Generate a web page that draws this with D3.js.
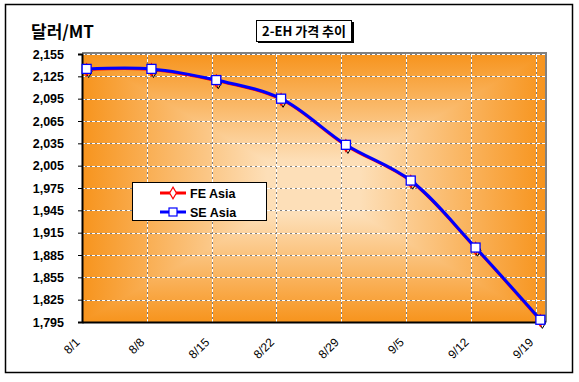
<!DOCTYPE html>
<html>
<head>
<meta charset="utf-8">
<script src="https://cdn.jsdelivr.net/npm/d3@7/dist/d3.min.js"></script>
<style>
  html, body { margin: 0; padding: 0; background: #fff; }
  svg { display: block; }
  text { font-family: "Liberation Sans", Arial, sans-serif; }
</style>
</head>
<body>
<svg id="chart" width="579" height="382"></svg>
<script>
// ---- data ----
const categories = ["8/1", "8/8", "8/15", "8/22", "8/29", "9/5", "9/12", "9/19"];
const feAsia = [2134, 2134, 2119, 2094, 2032, 1984, 1894, 1797];
const seAsia = [2135, 2135, 2120, 2095, 2033, 1985, 1895, 1798];
const yTickValues = [1795, 1825, 1855, 1885, 1915, 1945, 1975, 2005, 2035, 2065, 2095, 2125, 2155];
const seriesNames = ["FE Asia", "SE Asia"];
const chartTitle = "2-EH 가격 추이";
const yUnit = "달러/MT";

// ---- layout ----
const svg = d3.select("#chart");
const plot = { left: 82, right: 545, top: 54, bottom: 322 };
const orange = "#F7941D", light = "#FDDFB8";

// day-based scale: each category is a week apart, points at the middle of the day
const x = d3.scaleLinear().domain([0, 50]).range([plot.left, plot.right]);
const dayOf = i => i * 7 + 0.5;
const y = d3.scaleLinear().domain([1795, 2155]).range([plot.bottom, plot.top]);

// outer border
svg.append("rect").attr("x", 5.5).attr("y", 4.5).attr("width", 567).attr("height", 368)
  .attr("fill", "#fff").attr("stroke", "#000").attr("stroke-width", 1.5);

// gradients
const defs = svg.append("defs");
function mkGrad(id, horiz) {
  const g = defs.append("linearGradient").attr("id", id)
    .attr("x1", 0).attr("y1", 0).attr("x2", horiz ? 1 : 0).attr("y2", horiz ? 0 : 1);
  g.append("stop").attr("offset", "0%").attr("stop-color", orange);
  g.append("stop").attr("offset", "40%").attr("stop-color", light);
  g.append("stop").attr("offset", "60%").attr("stop-color", light);
  g.append("stop").attr("offset", "100%").attr("stop-color", orange);
}
mkGrad("gh", true);
mkGrad("gv", false);

const pw = plot.right - plot.left, ph = plot.bottom - plot.top;
// plot shadow border (gray top/right)
svg.append("rect").attr("x", plot.left).attr("y", plot.top - 2).attr("width", pw + 2).attr("height", ph + 2)
  .attr("fill", "#808080");
const bg = svg.append("g").style("isolation", "isolate");
bg.append("rect").attr("x", plot.left).attr("y", plot.top).attr("width", pw).attr("height", ph)
  .attr("fill", "url(#gh)");
bg.append("rect").attr("x", plot.left).attr("y", plot.top).attr("width", pw).attr("height", ph)
  .attr("fill", "url(#gv)").style("mix-blend-mode", "darken");

// gridlines
const grid = svg.append("g");
yTickValues.slice(1).forEach(v => {
  const yy = Math.round(y(v)) + 0.5;
  grid.append("line").attr("x1", plot.left).attr("x2", plot.right).attr("y1", yy).attr("y2", yy)
    .attr("stroke", "#808080").attr("stroke-width", 1);
  grid.append("line").attr("x1", plot.left).attr("x2", plot.right).attr("y1", yy).attr("y2", yy)
    .attr("stroke", "#fff").attr("stroke-width", 1).attr("stroke-dasharray", "3,2");
});
categories.forEach((c, i) => {
  if (i === 0) return;
  const xx = Math.round(x(i * 7)) + 0.5;
  grid.append("line").attr("x1", xx).attr("x2", xx).attr("y1", plot.top).attr("y2", plot.bottom)
    .attr("stroke", "#808080").attr("stroke-width", 1);
  grid.append("line").attr("x1", xx).attr("x2", xx).attr("y1", plot.top).attr("y2", plot.bottom)
    .attr("stroke", "#fff").attr("stroke-width", 1).attr("stroke-dasharray", "3,2");
});

// y axis
const yAxis = d3.axisLeft(y).tickValues(yTickValues).tickSize(4).tickPadding(14)
  .tickFormat(d3.format(","));
const ya = svg.append("g").attr("transform", `translate(${plot.left},0)`).call(yAxis);
ya.select(".domain").attr("stroke", "#000").attr("stroke-width", 2);
ya.selectAll(".tick line").attr("stroke", "#000");
ya.selectAll(".tick text").attr("font-size", 12.5).attr("font-weight", "bold")
  .attr("font-family", "'Liberation Sans', Arial, sans-serif").attr("fill", "#000");

// x axis
const xAxis = d3.axisBottom(x).tickValues(categories.map((c, i) => i * 7))
  .tickSize(0).tickFormat((d, i) => categories[i]);
const xa = svg.append("g").attr("transform", `translate(0,${plot.bottom})`).call(xAxis);
xa.select(".domain").attr("stroke", "#000").attr("stroke-width", 2);
xa.selectAll(".tick text")
  .attr("font-size", 12).attr("font-family", "'Liberation Sans', Arial, sans-serif").attr("fill", "#000")
  .attr("text-anchor", "end").attr("dy", 0).attr("y", 0)
  .attr("transform", "translate(-2,21) rotate(-45)");

// series
const line = d3.line().x((d, i) => x(dayOf(i))).y(d => y(d)).curve(d3.curveCatmullRom.alpha(0.5));

// FE Asia (red, diamonds)
svg.append("path").datum(feAsia).attr("d", line).attr("fill", "none")
  .attr("stroke", "#FF0000").attr("stroke-width", 2.5);
const diamond = d3.symbol().type(d3.symbolDiamond).size(40);
svg.append("g").selectAll("path.fesh").data(feAsia).join("path")
  .attr("d", diamond).attr("transform", (d, i) => `translate(${x(dayOf(i)) + 2},${y(d) + 2})`)
  .attr("fill", "none").attr("stroke", "#000").attr("stroke-width", 1);
svg.append("g").selectAll("path.fe").data(feAsia).join("path")
  .attr("d", diamond).attr("transform", (d, i) => `translate(${x(dayOf(i))},${y(d)})`)
  .attr("fill", "#fff").attr("stroke", "#FF0000").attr("stroke-width", 1.2);

// SE Asia (blue, squares)
svg.append("path").datum(seAsia).attr("d", line).attr("fill", "none")
  .attr("stroke", "#0000FF").attr("stroke-width", 3);
svg.append("g").selectAll("rect").data(seAsia).join("rect")
  .attr("x", (d, i) => x(dayOf(i)) - 4.5).attr("y", d => y(d) - 4.5)
  .attr("width", 9).attr("height", 9)
  .attr("fill", "#fff").attr("stroke", "#0000FF").attr("stroke-width", 1.3);

// legend
const lg = svg.append("g");
lg.append("rect").attr("x", 132.5).attr("y", 182.5).attr("width", 134).attr("height", 38)
  .attr("fill", "#fff").attr("stroke", "#000").attr("stroke-width", 1);
const legendY = [193, 212];
lg.append("line").attr("x1", 160).attr("x2", 186).attr("y1", legendY[0]).attr("y2", legendY[0])
  .attr("stroke", "#FF0000").attr("stroke-width", 3);
lg.append("path").attr("d", diamond).attr("transform", `translate(173,${legendY[0]})`)
  .attr("fill", "#fff").attr("stroke", "#FF0000").attr("stroke-width", 1.2);
lg.append("line").attr("x1", 160).attr("x2", 186).attr("y1", legendY[1]).attr("y2", legendY[1])
  .attr("stroke", "#0000FF").attr("stroke-width", 3);
lg.append("rect").attr("x", 169).attr("y", legendY[1] - 4).attr("width", 8).attr("height", 8)
  .attr("fill", "#fff").attr("stroke", "#0000FF").attr("stroke-width", 1.2);
seriesNames.forEach((n, i) => {
  lg.append("text").attr("x", 190).attr("y", legendY[i] + 4.5).text(n)
    .attr("font-size", 12.5).attr("font-weight", "bold").attr("fill", "#000");
});

// title box
svg.append("rect").attr("x", 258).attr("y", 22).attr("width", 96).attr("height", 21).attr("fill", "#000");
svg.append("rect").attr("x", 256.5).attr("y", 20.5).attr("width", 95).attr("height", 21)
  .attr("fill", "#fff").attr("stroke", "#000").attr("stroke-width", 1);
svg.append("text").attr("x", 304).attr("y", 36).attr("text-anchor", "middle").text(chartTitle)
  .attr("font-size", 13).attr("font-weight", "bold")
  .style("font-family", "'Noto Sans CJK KR', sans-serif").attr("fill", "#000");

// y unit label
svg.append("text").attr("x", 31).attr("y", 38).text(yUnit)
  .attr("font-size", 17).attr("font-weight", "bold")
  .style("font-family", "'Noto Sans CJK KR', sans-serif").attr("fill", "#000");
</script>
</body>
</html>
